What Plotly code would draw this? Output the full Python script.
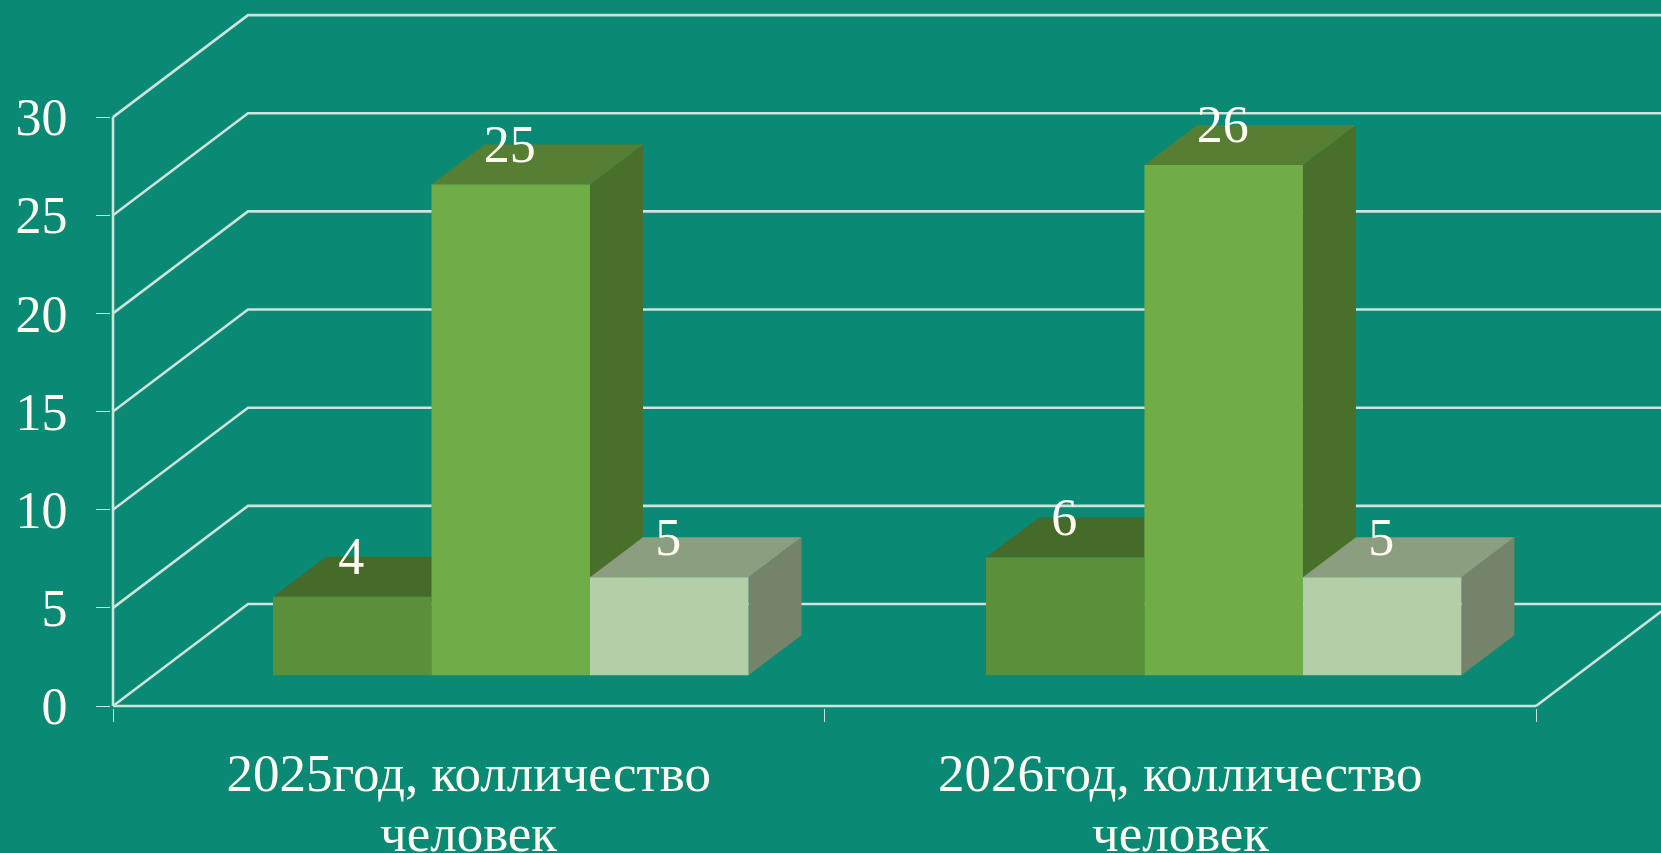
import plotly.graph_objects as go

# ---- data ----
categories_line1 = ["2025год, колличество", "2026год, колличество"]
categories_line2 = ["человек", "человек"]
series_a = [4, 6]
series_b = [25, 26]
series_c = [5, 5]
y_ticks = [0, 5, 10, 15, 20, 25, 30]

# ---- style ----
BG = "#0A8975"
LINE = "#CDE3DC"
TEXT = "#FFFBF0"
FONT = "Liberation Serif"
FS = 53
FS_SMALL = 52
front_colors = ["#5C8F3A", "#70AD47", "#B4CFA7"]
top_colors = ["#446B2A", "#567F34", "#8B9E80"]
side_colors = ["#3F6327", "#49702B", "#74836A"]

# ---- 3D geometry, in axis units ----
PX_X = 711.5          # pixels per category
PX_Y = 19.63          # pixels per value unit
WALL_DX = 135 / PX_X
WALL_DY = 102 / PX_Y
BAR_W = 158.5 / PX_X
BAR_START = 160 / PX_X
CAT_STEP = 1.002
BAR_DX = 53 / PX_X
BAR_DY = 40 / PX_Y
BAR_BASE = 30.7 / PX_Y
LABEL_UP = 35.5 / PX_Y
X_MIN = -2 / PX_X
Y_MIN = -2 / PX_Y
X_MAX = (1661 - 113) / PX_X
Y_MAX = 706 / PX_Y

fig = go.Figure()


def line(xs, ys):
    fig.add_trace(go.Scatter(x=xs, y=ys, mode="lines", cliponaxis=False,
                             line=dict(color=LINE, width=2.6), hoverinfo="skip"))


# walls and floor
for v in y_ticks:
    line([0, WALL_DX, X_MAX + 1], [v, v + WALL_DY, v + WALL_DY])
line([0, 0], [0, y_ticks[-1]])
line([0, len(categories_line1)], [0, 0])
line([len(categories_line1), len(categories_line1) + WALL_DX], [0, WALL_DY])

# bar tops and sides on the main axes, fronts on an overlay
series = [series_a, series_b, series_c]
lab_x, lab_y, lab_t = [], [], []
for c in range(len(categories_line1)):
    for s, vals in enumerate(series):
        v = vals[c]
        left = c * CAT_STEP + BAR_START + s * BAR_W
        right = left + BAR_W
        top = BAR_BASE + v
        fig.add_trace(go.Scatter(
            x=[right, right + BAR_DX, right + BAR_DX, right, right],
            y=[BAR_BASE, BAR_BASE + BAR_DY, top + BAR_DY, top, BAR_BASE],
            mode="lines", fill="toself", fillcolor=side_colors[s],
            line=dict(width=0), hoverinfo="skip"))
        fig.add_trace(go.Scatter(
            x=[left, right, right + BAR_DX, left + BAR_DX, left],
            y=[top, top, top + BAR_DY, top + BAR_DY, top],
            mode="lines", fill="toself", fillcolor=top_colors[s],
            line=dict(width=0), hoverinfo="skip"))
        lab_x.append(left + BAR_W / 2 - 1 / PX_X)
        lab_y.append(top + LABEL_UP)
        lab_t.append(str(v))

for s, vals in enumerate(series):
    fig.add_trace(go.Bar(
        x=[c * CAT_STEP + BAR_START + (s + 0.5) * BAR_W for c in range(len(vals))],
        y=vals, base=BAR_BASE, width=BAR_W,
        marker=dict(color=front_colors[s], line=dict(width=0)),
        xaxis="x2", yaxis="y2", hoverinfo="skip"))

fig.add_trace(go.Scatter(x=lab_x, y=lab_y, text=lab_t, mode="text",
                         textposition="middle center", cliponaxis=False,
                         textfont=dict(family=FONT, size=FS_SMALL, color=TEXT),
                         xaxis="x2", yaxis="y2", hoverinfo="skip"))

mid = [c + 0.5 for c in range(len(categories_line1))]
annotations = [
    dict(x=m, y=0, xref="x", yref="paper", yanchor="middle", yshift=-125,
         text=t, showarrow=False, font=dict(family=FONT, size=FS, color=TEXT))
    for m, t in zip(mid, categories_line2)
]

fig.update_layout(
    width=1661, height=853, autosize=False,
    margin=dict(l=111, r=0, t=0, b=145, pad=0),
    paper_bgcolor=BG, plot_bgcolor=BG,
    showlegend=False, barmode="overlay",
    annotations=annotations,
    font=dict(family=FONT, size=FS, color=TEXT),
    xaxis=dict(range=[X_MIN, X_MAX], tickmode="array", tickvals=mid,
               ticktext=categories_line1, ticks="", showgrid=False, zeroline=False,
               showline=False, ticklabelstandoff=29,
               tickfont=dict(family=FONT, size=FS, color=TEXT),
               minor=dict(tickmode="array",
                          tickvals=list(range(len(categories_line1) + 1)),
                          ticks="outside", ticklen=13, tickwidth=1,
                          tickcolor=LINE, showgrid=False)),
    yaxis=dict(range=[Y_MIN, Y_MAX], tickmode="array", tickvals=y_ticks,
               ticks="outside", ticklen=14, tickwidth=1, tickcolor=LINE,
               showgrid=False, zeroline=False, showline=False,
               ticklabelstandoff=18,
               tickfont=dict(family=FONT, size=FS_SMALL, color=TEXT)),
    xaxis2=dict(range=[X_MIN, X_MAX], overlaying="x", visible=False, anchor="y2"),
    yaxis2=dict(range=[Y_MIN, Y_MAX], overlaying="y", visible=False, anchor="x2"),
)

fig.write_html("out.html", config=dict(displayModeBar=False),
               post_script="document.body.style.margin='0';document.body.style.overflow='hidden';")
